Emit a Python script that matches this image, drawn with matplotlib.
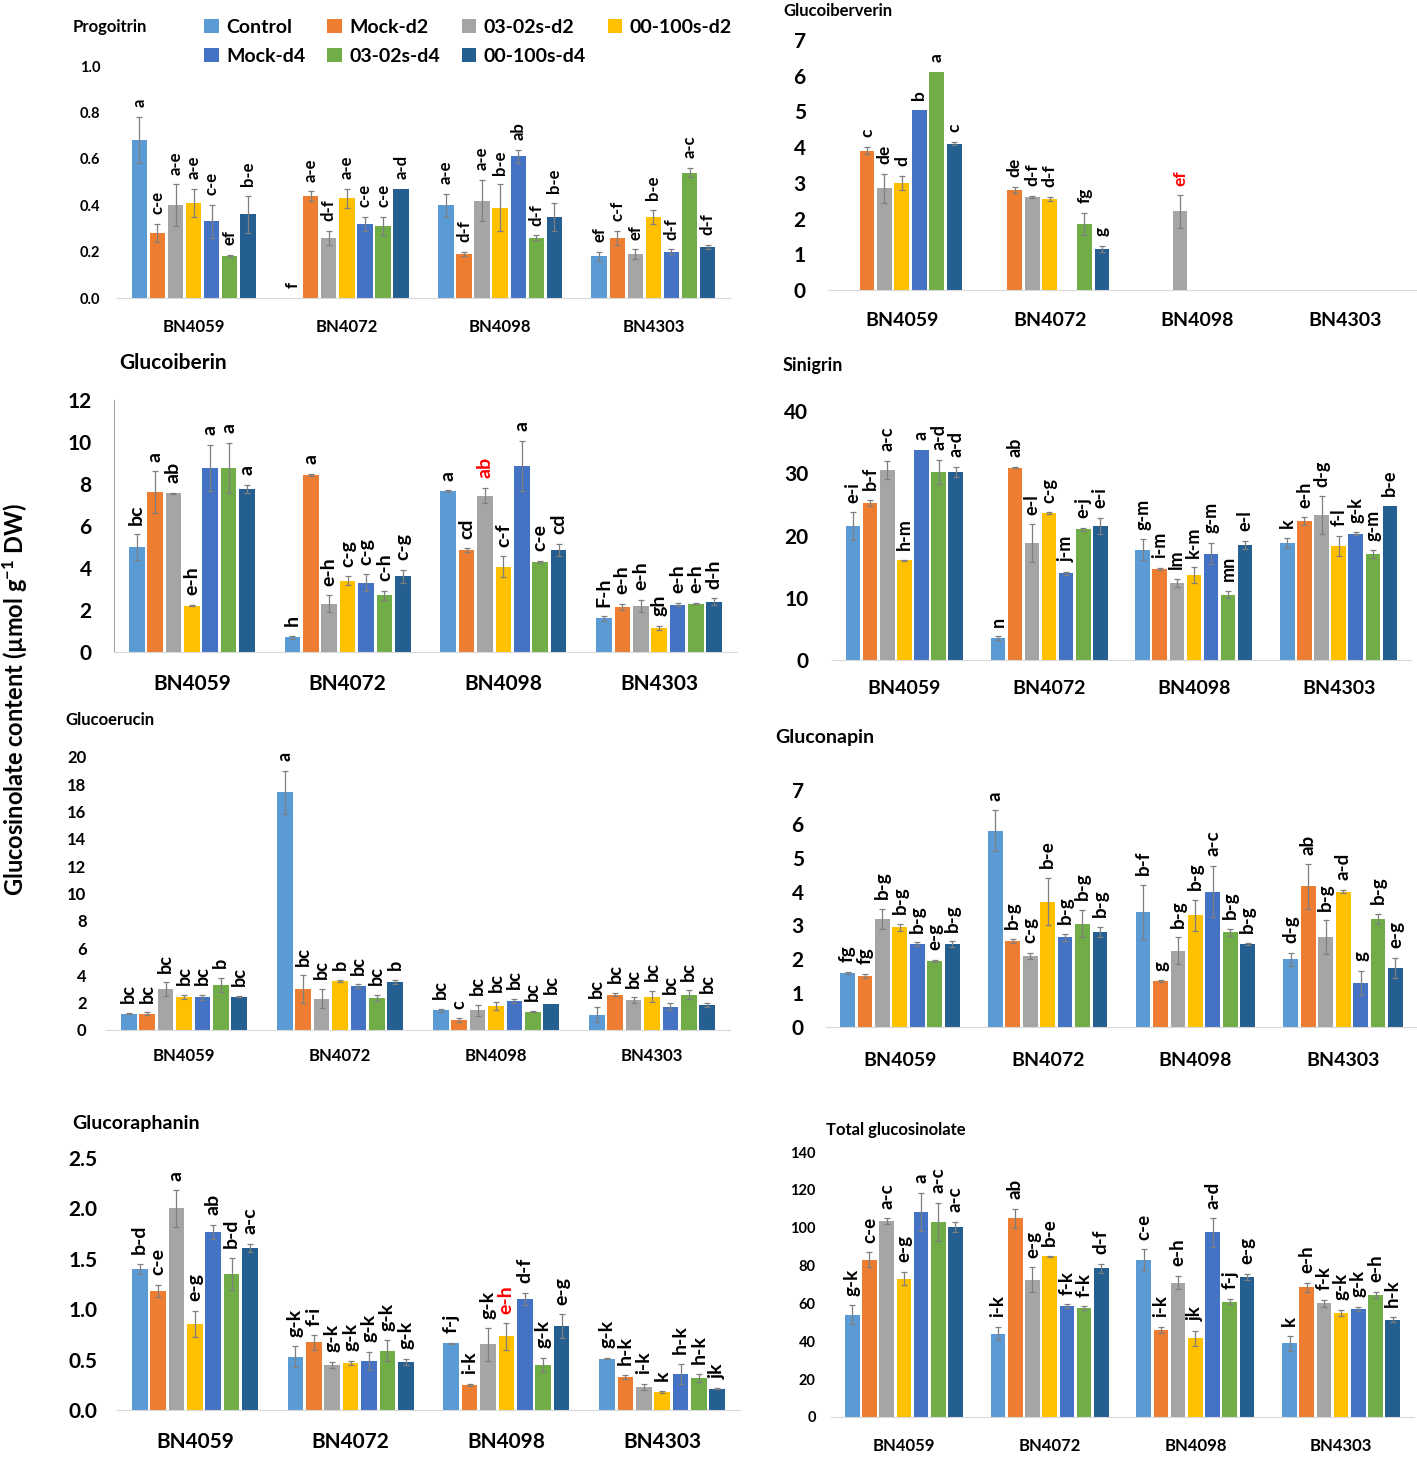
import numpy as np
import matplotlib
matplotlib.use("Agg")
import matplotlib.pyplot as plt
from matplotlib.patches import Patch

plt.rcParams['font.family'] = ['Lato', 'DejaVu Sans']
plt.rcParams['font.weight'] = 'bold'
plt.rcParams['mathtext.fontset'] = 'custom'
plt.rcParams['mathtext.rm'] = 'Lato:bold'
plt.rcParams['mathtext.default'] = 'rm'

genotypes = ['BN4059', 'BN4072', 'BN4098', 'BN4303']
treatments = ['Control', 'Mock-d2', '03-02s-d2', '00-100s-d2',
              'Mock-d4', '03-02s-d4', '00-100s-d4']
colors = ['#5B9BD5', '#ED7D31', '#A5A5A5', '#FFC000',
          '#4472C4', '#70AD47', '#255E91']
nan = np.nan

# values per genotype, in treatment order
progoitrin_mean = [[0.68, 0.28, 0.40, 0.41, 0.33, 0.18, 0.36],
                   [0.00, 0.44, 0.26, 0.43, 0.32, 0.31, 0.47],
                   [0.40, 0.19, 0.42, 0.39, 0.61, 0.26, 0.35],
                   [0.18, 0.26, 0.19, 0.35, 0.20, 0.54, 0.22]]
progoitrin_err = [[0.10, 0.04, 0.09, 0.06, 0.07, 0.005, 0.08],
                  [0.0, 0.02, 0.03, 0.04, 0.03, 0.04, 0.0],
                  [0.05, 0.01, 0.09, 0.10, 0.03, 0.01, 0.06],
                  [0.02, 0.03, 0.02, 0.03, 0.01, 0.02, 0.01]]
progoitrin_sig = [['a', 'c-e', 'a-e', 'a-e', 'c-e', 'ef', 'b-e'],
                  ['f', 'a-e', 'd-f', 'a-e', 'c-e', 'c-e', 'a-d'],
                  ['a-e', 'd-f', 'a-e', 'b-e', 'ab', 'd-f', 'b-e'],
                  ['ef', 'c-f', 'ef', 'b-e', 'd-f', 'a-c', 'd-f']]

glucoiberverin_mean = [[nan, 3.9, 2.85, 3.0, 5.05, 6.1, 4.1],
                       [nan, 2.8, 2.6, 2.55, nan, 1.85, 1.15],
                       [nan, nan, 2.2, nan, nan, nan, nan],
                       [nan, nan, nan, nan, nan, nan, nan]]
glucoiberverin_err = [[0, 0.1, 0.4, 0.2, 0.0, 0.0, 0.05],
                      [0, 0.08, 0.03, 0.05, 0, 0.3, 0.08],
                      [0, 0, 0.45, 0, 0, 0, 0],
                      [0, 0, 0, 0, 0, 0, 0]]
glucoiberverin_sig = [['', 'c', 'de', 'd', 'b', 'a', 'c'],
                      ['', 'de', 'd-f', 'd-f', '', 'fg', 'g'],
                      ['', '', 'ef', '', '', '', ''],
                      ['', '', '', '', '', '', '']]

glucoiberin_mean = [[5.0, 7.6, 7.55, 2.2, 8.75, 8.75, 7.75],
                    [0.7, 8.45, 2.3, 3.4, 3.3, 2.7, 3.6],
                    [7.65, 4.85, 7.45, 4.05, 8.85, 4.3, 4.85],
                    [1.6, 2.15, 2.2, 1.15, 2.25, 2.3, 2.4]]
glucoiberin_err = [[0.6, 1.0, 0.03, 0.03, 1.1, 1.2, 0.2],
                   [0.08, 0.05, 0.4, 0.2, 0.4, 0.2, 0.3],
                   [0.05, 0.08, 0.35, 0.5, 1.2, 0.05, 0.3],
                   [0.1, 0.15, 0.3, 0.1, 0.08, 0.03, 0.15]]
glucoiberin_sig = [['bc', 'a', 'ab', 'e-h', 'a', 'a', 'a'],
                   ['h', 'a', 'e-h', 'c-g', 'c-g', 'c-h', 'c-g'],
                   ['a', 'cd', 'ab', 'c-f', 'a', 'c-e', 'cd'],
                   ['F-h', 'e-h', 'e-h', 'gh', 'e-h', 'e-h', 'd-h']]

sinigrin_mean = [[21.5, 25.2, 30.5, 16.0, 33.8, 30.2, 30.2],
                 [3.5, 30.9, 18.8, 23.6, 13.9, 21.0, 21.5],
                 [17.7, 14.6, 12.4, 13.6, 17.1, 10.5, 18.5],
                 [18.8, 22.3, 23.3, 18.3, 20.3, 17.0, 24.8]]
sinigrin_err = [[2.2, 0.5, 1.5, 0.1, 0.0, 2.0, 0.8],
                [0.3, 0.1, 3.0, 0.1, 0.3, 0.2, 1.3],
                [1.7, 0.2, 0.6, 1.3, 1.7, 0.6, 0.6],
                [0.8, 0.6, 3.0, 1.6, 0.2, 0.6, 0.0]]
sinigrin_sig = [['e-i', 'b-f', 'a-c', 'h-m', 'a', 'a-d', 'a-d'],
                ['n', 'ab', 'e-l', 'c-g', 'j-m', 'e-j', 'e-i'],
                ['g-m', 'i-m', 'lm', 'k-m', 'g-m', 'mn', 'e-l'],
                ['k', 'e-h', 'd-g', 'f-l', 'g-k', 'g-m', 'b-e']]

glucoerucin_mean = [[1.2, 1.2, 3.0, 2.4, 2.4, 3.3, 2.45],
                    [17.4, 3.0, 2.3, 3.6, 3.2, 2.35, 3.5],
                    [1.45, 0.7, 1.45, 1.75, 2.15, 1.35, 1.9],
                    [1.1, 2.6, 2.2, 2.45, 1.7, 2.6, 1.85]]
glucoerucin_err = [[0.05, 0.1, 0.5, 0.15, 0.2, 0.5, 0.05],
                   [1.6, 1.0, 0.7, 0.05, 0.15, 0.25, 0.15],
                   [0.1, 0.15, 0.4, 0.3, 0.15, 0.05, 0.0],
                   [0.55, 0.1, 0.2, 0.4, 0.25, 0.3, 0.15]]
glucoerucin_sig = [['bc', 'bc', 'bc', 'bc', 'bc', 'b', 'bc'],
                   ['a', 'bc', 'bc', 'b', 'bc', 'bc', 'b'],
                   ['bc', 'c', 'bc', 'bc', 'bc', 'bc', 'bc'],
                   ['bc', 'bc', 'bc', 'bc', 'bc', 'bc', 'bc']]

gluconapin_mean = [[1.6, 1.5, 3.2, 2.95, 2.45, 1.95, 2.45],
                   [5.8, 2.55, 2.1, 3.7, 2.65, 3.05, 2.8],
                   [3.4, 1.35, 2.25, 3.3, 4.0, 2.8, 2.45],
                   [2.0, 4.15, 2.65, 4.0, 1.3, 3.2, 1.75]]
gluconapin_err = [[0.02, 0.06, 0.3, 0.1, 0.05, 0.03, 0.08],
                  [0.6, 0.06, 0.08, 0.7, 0.1, 0.4, 0.15],
                  [0.8, 0.03, 0.4, 0.45, 0.75, 0.1, 0.03],
                  [0.2, 0.65, 0.5, 0.05, 0.35, 0.15, 0.3]]
gluconapin_sig = [['fg', 'fg', 'b-g', 'b-g', 'b-g', 'e-g', 'b-g'],
                  ['a', 'b-g', 'c-g', 'b-e', 'b-g', 'b-g', 'b-g'],
                  ['b-f', 'g', 'b-g', 'b-g', 'a-c', 'b-g', 'b-g'],
                  ['d-g', 'ab', 'b-g', 'a-d', 'g', 'b-g', 'e-g']]

glucoraphanin_mean = [[1.40, 1.18, 2.00, 0.85, 1.77, 1.35, 1.61],
                      [0.53, 0.67, 0.45, 0.47, 0.49, 0.59, 0.48],
                      [0.66, 0.25, 0.65, 0.73, 1.10, 0.45, 0.83],
                      [0.51, 0.33, 0.23, 0.18, 0.36, 0.32, 0.21]]
glucoraphanin_err = [[0.05, 0.06, 0.18, 0.13, 0.07, 0.16, 0.04],
                     [0.10, 0.07, 0.03, 0.02, 0.09, 0.10, 0.03],
                     [0.005, 0.01, 0.16, 0.13, 0.06, 0.07, 0.12],
                     [0.005, 0.02, 0.03, 0.01, 0.10, 0.04, 0.005]]
glucoraphanin_sig = [['b-d', 'c-e', 'a', 'e-g', 'ab', 'b-d', 'a-c'],
                     ['g-k', 'f-i', 'g-k', 'g-k', 'g-k', 'g-k', 'g-k'],
                     ['f-j', 'i-k', 'g-k', 'e-h', 'd-f', 'g-k', 'e-g'],
                     ['g-k', 'h-k', 'i-k', 'k', 'h-k', 'h-k', 'jk']]

total_mean = [[54, 83, 103.5, 73, 108.5, 103, 100.5],
              [44, 105, 72.5, 85, 58.5, 57.5, 78.5],
              [83, 46, 71, 41.5, 97.5, 61, 74],
              [39, 68.5, 60, 55, 57, 64.5, 51.5]]
total_err = [[5, 4, 1.5, 3.5, 10, 10, 2.5],
             [3.5, 5, 6.5, 0.3, 1, 1, 2.5],
             [5.5, 1.5, 3.5, 4, 7.5, 1.5, 1.5],
             [4, 2.5, 2, 1.5, 1, 1.5, 1.5]]
total_sig = [['g-k', 'c-e', 'a-c', 'e-g', 'a', 'a-c', 'a-c'],
             ['i-k', 'ab', 'e-g', 'b-e', 'f-k', 'f-k', 'd-f'],
             ['c-e', 'i-k', 'e-h', 'jk', 'a-d', 'f-j', 'e-g'],
             ['k', 'e-h', 'f-k', 'g-k', 'g-k', 'e-h', 'h-k']]

# letters shown in red: (genotype index, treatment index)
glucoiberverin_red = [(2, 2)]
glucoiberin_red = [(2, 2)]
glucoraphanin_red = [(2, 3)]

W, H = 1417, 1457
fig = plt.figure(figsize=(W / 100, H / 100), dpi=100)

pitch = 0.118
width = 0.1


def panel(name, mean, err, sig, red, box, ymax, ystep, fmt, title_xy,
          title_fs, tick_fs, cat_fs, sig_fs, ypad, xpad, yspine=False):
    L, R, y0, ytop = box
    ax = fig.add_axes([L / W, 1 - y0 / H, (R - L) / W, (y0 - ytop) / H])
    mean = np.array(mean, dtype=float)
    err = np.array(err, dtype=float)
    x = np.arange(len(genotypes))
    for j, t in enumerate(treatments):
        xs = x + (j - 3) * pitch
        ax.bar(xs, mean[:, j], width, color=colors[j], zorder=2)
        ok = ~np.isnan(mean[:, j]) & (err[:, j] > 0)
        ax.errorbar(xs[ok], mean[ok, j], yerr=err[ok, j], fmt='none',
                    ecolor='#7F7F7F', elinewidth=0.9, capsize=2,
                    capthick=0.9, zorder=3)
        for i in range(len(genotypes)):
            if sig[i][j] == '' or np.isnan(mean[i, j]):
                continue
            top = mean[i, j] + err[i, j]
            c = 'red' if (i, j) in red else 'black'
            ax.annotate(sig[i][j], (xs[i], top), xytext=(0, 7),
                        textcoords='offset points', rotation=90,
                        ha='center', va='bottom', fontsize=sig_fs,
                        fontweight='bold', color=c, annotation_clip=False)
    ax.set_xlim(-0.5, 3.5)
    ax.set_ylim(0, ymax)
    ticks = np.arange(0, ymax + ystep / 2, ystep)
    ax.set_yticks(ticks)
    ax.set_yticklabels([fmt.format(v) for v in ticks], fontsize=tick_fs,
                       fontweight='bold')
    ax.set_xticks(x)
    ax.set_xticklabels(genotypes, fontsize=cat_fs, fontweight='bold')
    ax.tick_params(axis='both', length=0)
    ax.tick_params(axis='y', pad=ypad)
    ax.tick_params(axis='x', pad=xpad)
    for s in ['top', 'right']:
        ax.spines[s].set_visible(False)
    ax.spines['left'].set_visible(yspine)
    ax.spines['left'].set_color('#A6A6A6')
    ax.spines['bottom'].set_color('#D9D9D9')
    ax.patch.set_alpha(0)
    fig.text(title_xy[0] / W, 1 - title_xy[1] / H, name, fontsize=title_fs,
             fontweight='bold', ha='left', va='center')
    return ax


panel('Progoitrin', progoitrin_mean, progoitrin_err, progoitrin_sig, [],
      (117, 730, 298, 66), 1.0, 0.2, '{:.1f}', (73, 27), 12, 10.5, 12, 12,
      12, 15)
panel('Glucoiberverin', glucoiberverin_mean, glucoiberverin_err,
      glucoiberverin_sig, glucoiberverin_red, (828, 1419, 290, 40), 7, 1,
      '{:.0f}', (783, 11), 12, 15, 14, 12.5, 16, 16)
panel('Glucoiberin', glucoiberin_mean, glucoiberin_err, glucoiberin_sig,
      glucoiberin_red, (114, 737, 652, 400), 12, 2, '{:.0f}', (119, 363),
      15, 15, 15, 14, 16, 15.5, yspine=True)
panel('Sinigrin', sinigrin_mean, sinigrin_err, sinigrin_sig, [],
      (832, 1411, 660, 411), 40, 10, '{:.0f}', (783, 365), 13, 15, 14, 13,
      17, 14.5)
panel('Glucoerucin', glucoerucin_mean, glucoerucin_err, glucoerucin_sig, [],
      (106, 730, 1030, 757), 20, 2, '{:.0f}', (65, 720), 12, 12, 12, 13,
      14, 13)
panel('Gluconapin', gluconapin_mean, gluconapin_err, gluconapin_sig, [],
      (826, 1417, 1027, 790), 7, 1, '{:.0f}', (775, 737), 14, 15, 14, 13.5,
      16, 18)
panel('Glucoraphanin', glucoraphanin_mean, glucoraphanin_err,
      glucoraphanin_sig, glucoraphanin_red, (117, 740, 1410, 1158), 2.5, 0.5,
      '{:.1f}', (72, 1123), 14, 15, 15, 14, 14, 16)
panel('Total glucosinolate', total_mean, total_err, total_sig, [],
      (831, 1414, 1417, 1152), 140, 20, '{:.0f}', (826, 1130), 12, 10.5, 12,
      13.5, 11, 15)

# legend, filled column by column to read row-wise
order = [0, 4, 1, 5, 2, 6, 3]
handles = [Patch(facecolor=colors[k], label=treatments[k]) for k in order]
fig.legend(handles=handles, loc='upper left',
           bbox_to_anchor=(204 / W, 1 - 19 / H), ncol=4, frameon=False,
           fontsize=14, handlelength=0.75, handleheight=0.75,
           handletextpad=0.4, columnspacing=1.1, labelspacing=0.6,
           borderpad=0, borderaxespad=0)

fig.text(15 / W, 1 - 700 / H, 'Glucosinolate content (µmol g$^{-1}$ DW)',
         rotation=90, ha='center', va='center', fontsize=17,
         fontweight='bold')

fig.savefig('out.png', dpi=100)
